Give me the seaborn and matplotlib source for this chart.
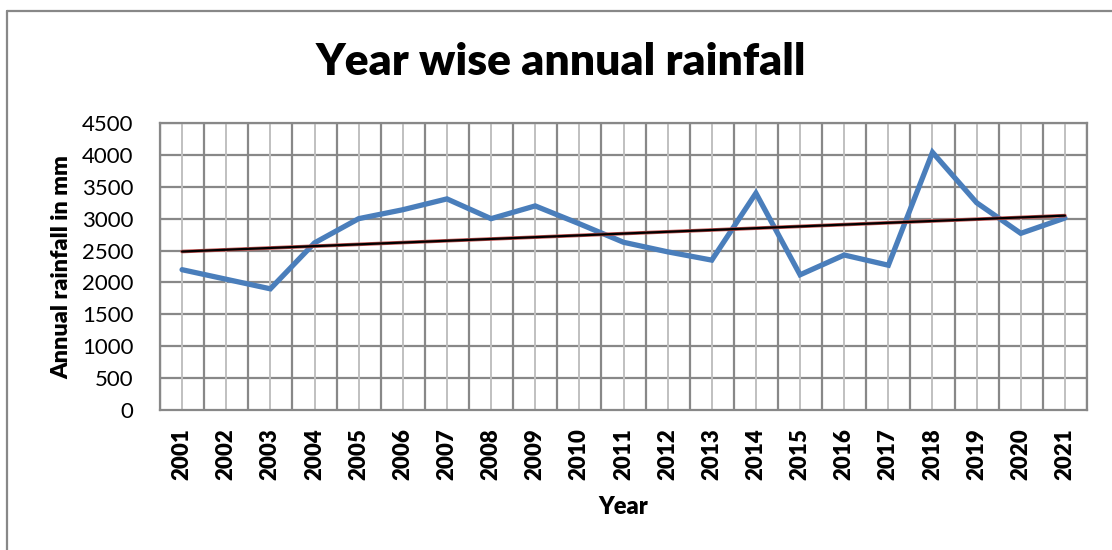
import matplotlib
matplotlib.use("Agg")
import matplotlib.pyplot as plt
from matplotlib.lines import Line2D
import seaborn as sns
import numpy as np
import pandas as pd

years = ["2001", "2002", "2003", "2004", "2005", "2006", "2007", "2008", "2009", "2010", "2011",
         "2012", "2013", "2014", "2015", "2016", "2017", "2018", "2019", "2020", "2021"]
rainfall = [2200, 2050, 1900, 2620, 3000, 3140, 3310, 3000, 3200, 2920, 2630,
            2480, 2350, 3400, 2120, 2430, 2270, 4040, 3250, 2770, 3010]
y_ticks = [0, 500, 1000, 1500, 2000, 2500, 3000, 3500, 4000, 4500]

sns.set_theme(style="white")
plt.rcParams['font.family'] = ['Lato', 'DejaVu Sans']
plt.rcParams['text.color'] = 'black'
plt.rcParams['xtick.color'] = 'black'
plt.rcParams['ytick.color'] = 'black'

df = pd.DataFrame({"idx": np.arange(len(years)), "rain": rainfall})

fig = plt.figure(figsize=(11.12, 5.5), dpi=100)
ax = fig.add_axes([160/1112, 1-410/550, (1087-160)/1112, (410-123)/550])

# grid
for v in y_ticks[1:]:
    ax.axhline(v, color="#888888", lw=1.6, zorder=1)
for i in range(len(years) + 1):
    ax.axvline(i - 0.5, color="#888888", lw=1.6, zorder=1)
for i in range(len(years)):
    ax.axvline(i, color="#c0c0c0", lw=1.4, zorder=1)

sns.lineplot(data=df, x="idx", y="rain", ax=ax, color="#4a7ebb", lw=3.8, zorder=3,
             solid_joinstyle="miter")
sns.regplot(data=df, x="idx", y="rain", ax=ax, scatter=False, ci=None, truncate=True,
            line_kws=dict(color="#c0504d", lw=2.6, zorder=4))
sns.regplot(data=df, x="idx", y="rain", ax=ax, scatter=False, ci=None, truncate=True,
            line_kws=dict(color="black", lw=1.6, zorder=5))

ax.set_xlim(-0.5, len(years) - 0.5)
ax.set_ylim(0, 4500)
ax.set_xticks(np.arange(len(years)))
ax.set_xticklabels(years, rotation=90, fontweight="heavy", fontsize=16, color="black")
ax.set_yticks(y_ticks)
ax.set_yticklabels([str(v) for v in y_ticks], fontsize=16, color="black")
ax.tick_params(axis="x", length=0, pad=13)
ax.tick_params(axis="y", length=0, pad=19)
for s in ax.spines.values():
    s.set_color("#888888")
    s.set_linewidth(1.6)
ax.set_xlabel("")
ax.set_ylabel("")

fig.text(0.5047, 1-62/550, "Year wise annual rainfall", ha="center", va="center",
         fontsize=32, fontweight="heavy", color="black")
fig.text(62/1112, 1-267/550, "Annual rainfall in mm", ha="center", va="center",
         rotation=90, fontsize=16.8, fontweight="heavy", color="black")
fig.text(623/1112, 1-507/550, "Year", ha="center", va="center", fontsize=17,
         fontweight="heavy", color="black")

fig.add_artist(Line2D([7/1112, 1.0], [1-11/550, 1-11/550], color="#888888", lw=1.6))
fig.add_artist(Line2D([7/1112, 7/1112], [1-11/550, 0.0], color="#888888", lw=1.6))

fig.savefig("out.png", dpi=100)
